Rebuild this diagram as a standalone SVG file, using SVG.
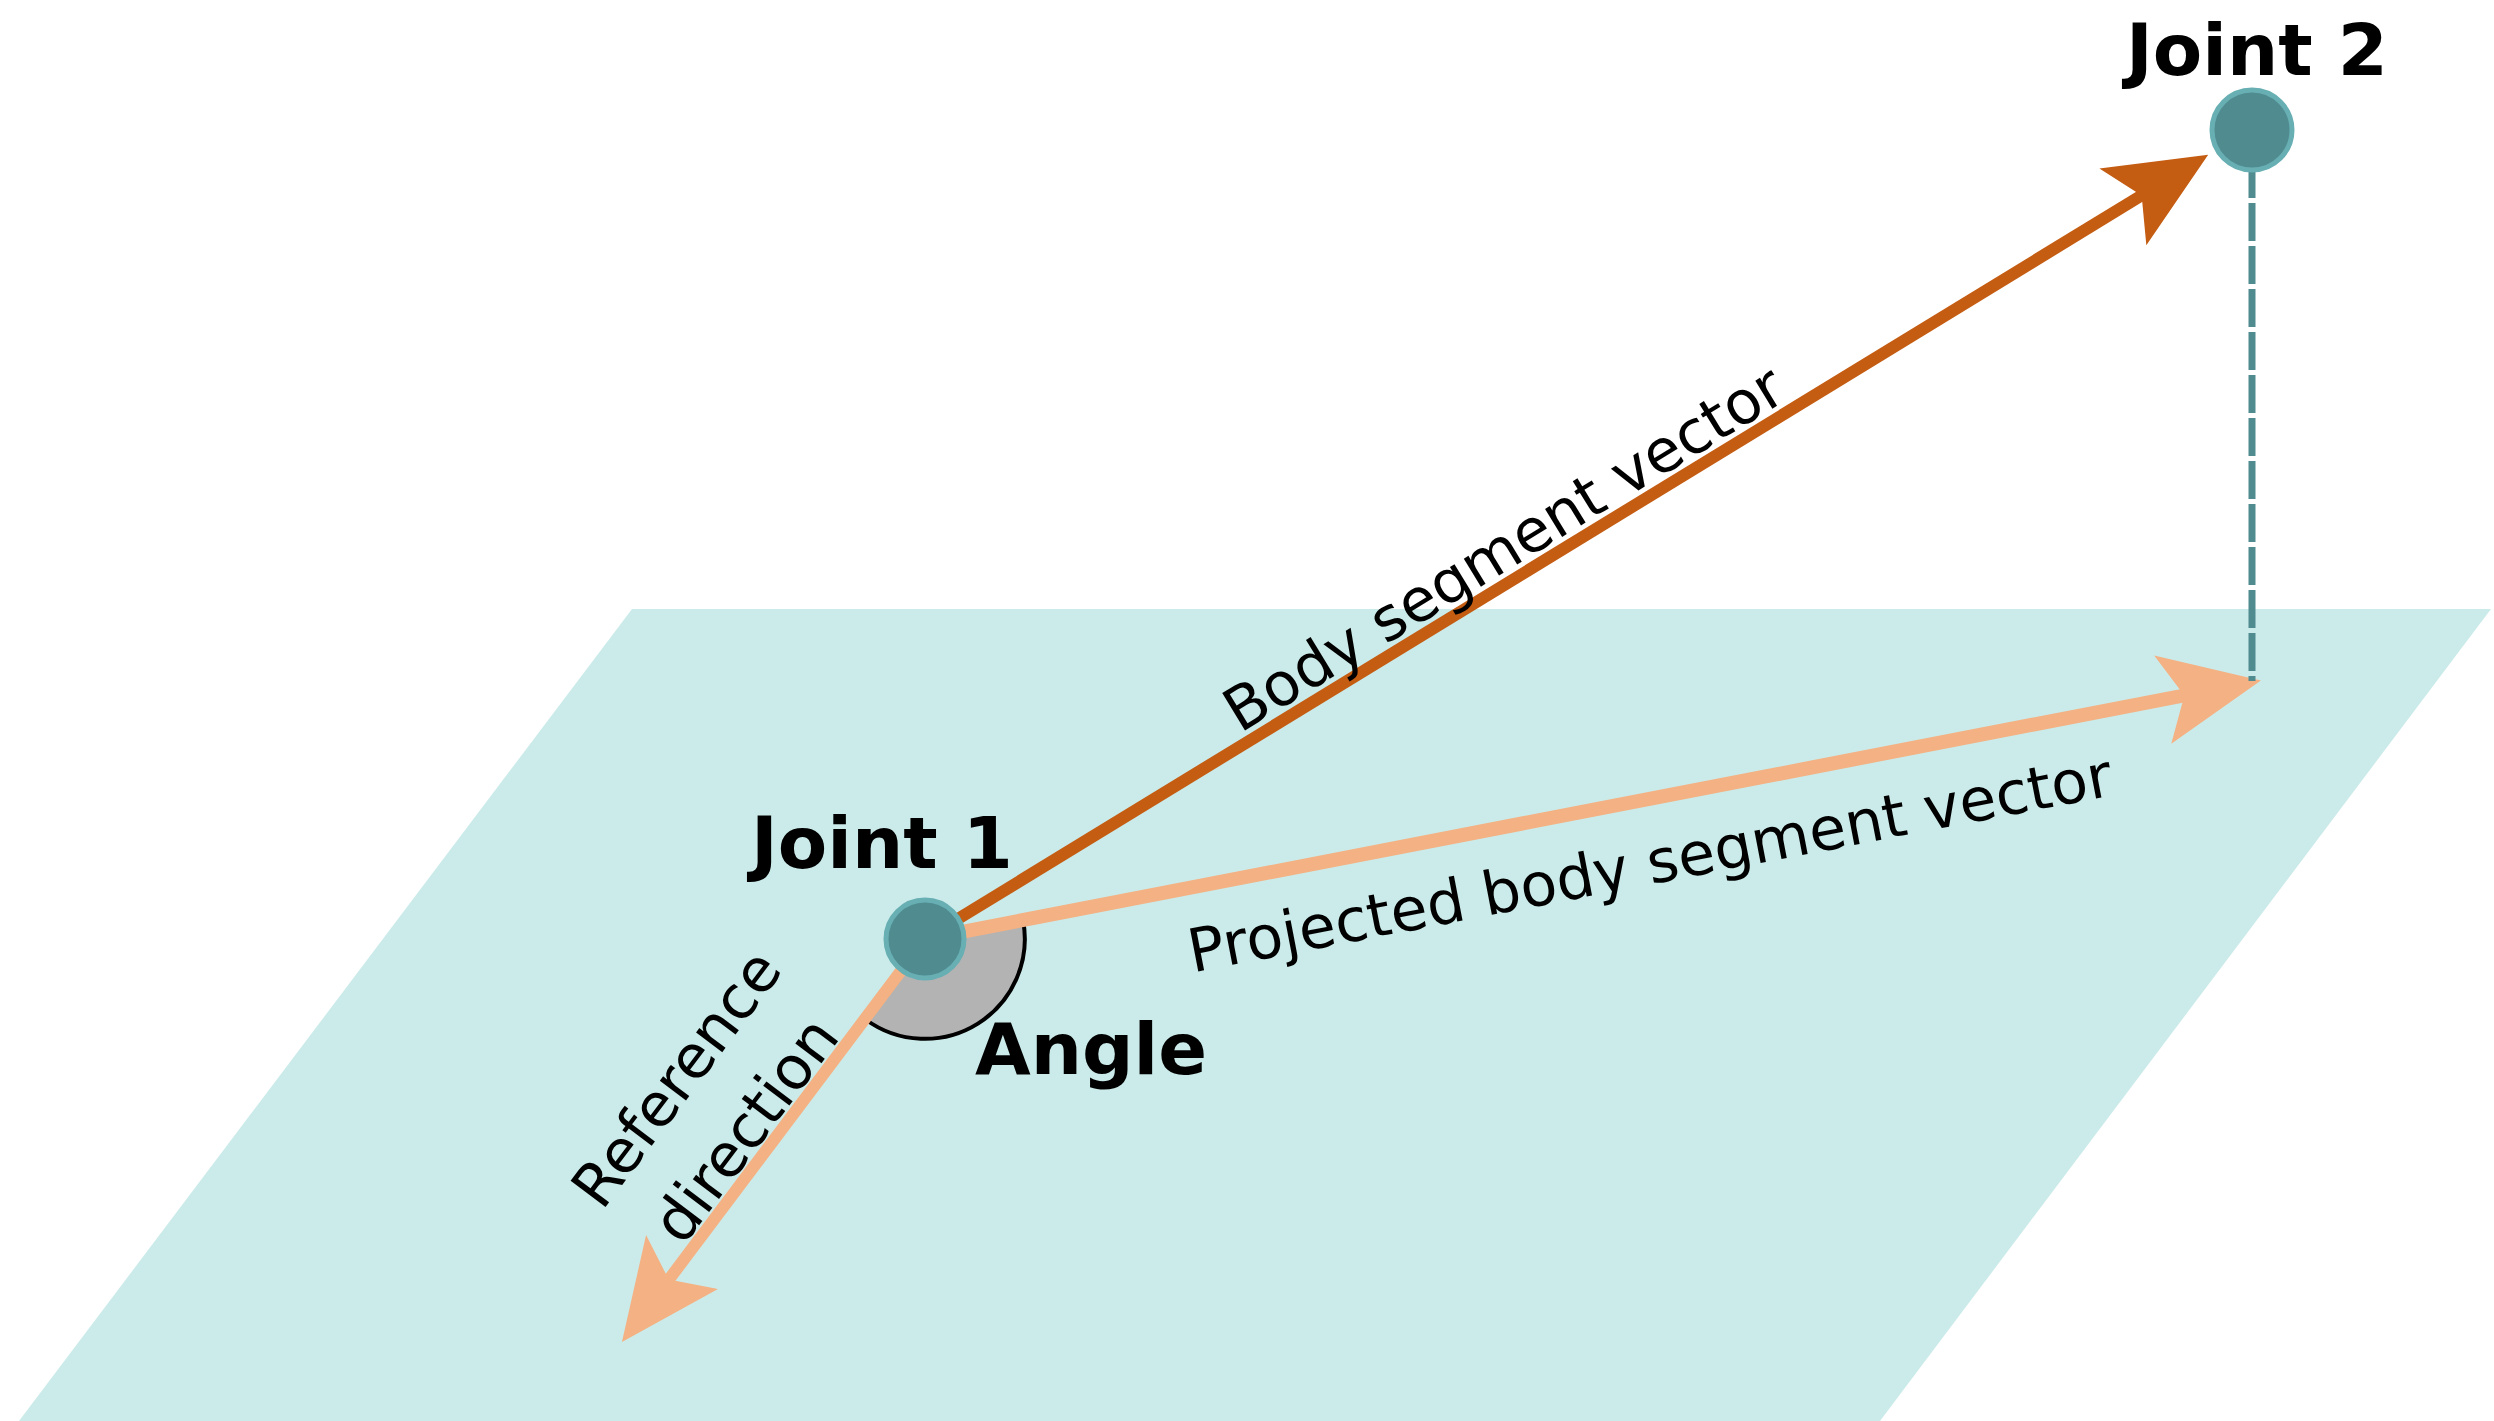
<svg xmlns="http://www.w3.org/2000/svg" width="2494" height="1421" viewBox="0 0 2494 1421">
<style>
.lbl{font-family:"DejaVu Sans",Verdana,sans-serif;fill:#000}
.b{font-weight:bold;font-size:72px}
.n{font-size:60px}
.joint{fill:#508b90;stroke:#67afb3;stroke-width:5}
</style>
<defs>
<marker id="hd" markerUnits="userSpaceOnUse" viewBox="0 0 100 90" markerWidth="100" markerHeight="90" refX="40" refY="45" orient="auto">
<path d="M0,0 L100,45 L0,90 L22,45 Z" fill="context-stroke"/>
</marker>
<marker id="hBody" markerUnits="userSpaceOnUse" viewBox="0 0 100 90" markerWidth="100" markerHeight="90" refX="40" refY="45" orient="auto">
<path d="M0,0 L100,45 L0,90 L22,45 Z" fill="#c45c12"/>
</marker>
<marker id="hProj" markerUnits="userSpaceOnUse" viewBox="0 0 100 90" markerWidth="100" markerHeight="90" refX="40" refY="45" orient="auto">
<path d="M0,0 L100,45 L0,90 L22,45 Z" fill="#f4b183"/>
</marker>
</defs>
<polygon id="plane" points="632,609 2491,609 1880,1421 19,1421" fill="#cbebea"/>
<g id="angle">
<path d="M925,939 L1023,920 A100,100 0 0 1 865,1019 Z" fill="#b3b3b3"/>
<path d="M1023,920 A100,100 0 0 1 865,1019" fill="none" stroke="#000" stroke-width="4"/>
</g>
<g id="connectors" fill="none">
<line x1="925" y1="939" x2="2157" y2="186" stroke="#c45c12" stroke-width="12" marker-end="url(#hBody)"/>
<line x1="925" y1="939" x2="2202" y2="692" stroke="#f4b183" stroke-width="14" marker-end="url(#hProj)"/>
<line x1="925" y1="939" x2="658" y2="1294" stroke="#f4b183" stroke-width="12" marker-end="url(#hProj)"/>
<line x1="2252" y1="160" x2="2252" y2="681" stroke="#508b90" stroke-width="7" stroke-dasharray="38,5"/>
</g>
<g id="joint1">
<circle class="joint" cx="925" cy="939" r="39"/>
<text class="lbl b" x="751" y="868">Joint 1</text>
</g>
<g id="joint2">
<circle class="joint" cx="2252" cy="130" r="40"/>
<text class="lbl b" x="2126" y="75">Joint 2</text>
</g>
<text class="lbl b" x="975" y="1074">Angle</text>
<text class="lbl n" text-anchor="middle" transform="translate(1504,549) rotate(-31.4)" dy="20">Body segment vector</text>
<text class="lbl n" text-anchor="middle" transform="translate(1650,864) rotate(-10.9)" dy="20">Projected body segment vector</text>
<text class="lbl n" text-anchor="middle" transform="translate(677,1079) rotate(-53)" dy="20">Reference</text>
<text class="lbl n" text-anchor="middle" transform="translate(746,1130) rotate(-53)" dy="20">direction</text>
</svg>
